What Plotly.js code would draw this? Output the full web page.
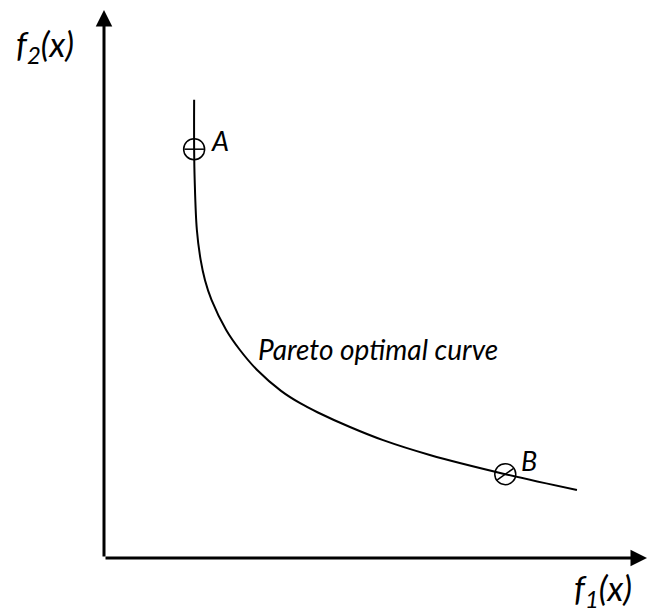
<!DOCTYPE html>
<html>
<head>
<meta charset="utf-8">
<script src="https://cdn.plot.ly/plotly-3.0.1.min.js"></script>
<style>
  html, body { margin: 0; padding: 0; background: #ffffff; }
  #chart { width: 647px; height: 614px; }
</style>
</head>
<body>
<div id="chart"></div>
<script>
// Pareto front: objective f1 on the horizontal axis, f2 on the vertical axis
const curveF1 = [1.66, 1.66, 1.67, 1.71, 1.78, 1.86, 1.98, 2.25, 2.50, 2.82, 3.26, 3.62, 3.93, 4.53, 5.14, 6.00, 7.39, 8.71];
const curveF2 = [8.36, 7.46, 6.90, 5.99, 5.44, 5.07, 4.71, 4.16, 3.80, 3.43, 3.05, 2.82, 2.66, 2.39, 2.15, 1.88, 1.53, 1.24];

// Two highlighted solutions on the front
const pointNames = ['A', 'B'];
const pointF1 = [1.66, 7.39];
const pointF2 = [7.46, 1.53];
const tickAngles = [0, -35];

// Axis extent (arrow tips)
const axisMax = 10;

const fontFamily = 'Lato, "Open Sans", "DejaVu Sans", sans-serif';

const traces = [
  {
    type: 'scatter', mode: 'lines',
    x: curveF1, y: curveF2,
    line: { color: '#000', width: 2, shape: 'spline', smoothing: 1.0 },
    hoverinfo: 'skip', showlegend: false
  },
  {
    type: 'scatter', mode: 'markers',
    x: pointF1, y: pointF2,
    marker: { symbol: 'circle-open', size: 21, color: '#000', line: { color: '#000', width: 1.5 } },
    hoverinfo: 'skip', showlegend: false
  },
  {
    type: 'scatter', mode: 'markers',
    x: pointF1, y: pointF2,
    marker: { symbol: 'line-ew-open', size: 14, angle: tickAngles, color: '#000', line: { color: '#000', width: 1.5 } },
    hoverinfo: 'skip', showlegend: false
  }
];

const annotations = [
  // horizontal axis with arrow
  { x: axisMax, y: 0, ax: 0, ay: 0, xref: 'x', yref: 'y', axref: 'x', ayref: 'y',
    text: '', showarrow: true, arrowhead: 2, arrowsize: 1.1, arrowwidth: 3, arrowcolor: '#000', standoff: 0 },
  // vertical axis with arrow
  { x: 0, y: axisMax, ax: 0, ay: 0, xref: 'x', yref: 'y', axref: 'x', ayref: 'y',
    text: '', showarrow: true, arrowhead: 2, arrowsize: 1.1, arrowwidth: 3, arrowcolor: '#000', standoff: 0 },
  // axis labels
  { xref: 'paper', yref: 'paper', x: -0.109, y: 0.935, xanchor: 'center', yanchor: 'middle', showarrow: false,
    text: 'f<sub>2</sub>(x)', font: { family: fontFamily, size: 34, color: '#000', style: 'italic' } },
  { xref: 'paper', yref: 'paper', x: 0.919, y: -0.058, xanchor: 'center', yanchor: 'middle', showarrow: false,
    text: 'f<sub>1</sub>(x)', font: { family: fontFamily, size: 34, color: '#000', style: 'italic' } },
  // curve caption
  { xref: 'x', yref: 'y', x: 5.05, y: 3.81, xanchor: 'center', yanchor: 'middle', showarrow: false,
    text: 'Pareto optimal curve', font: { family: fontFamily, size: 28, color: '#000', style: 'italic' } }
];

// point labels, offset from their points
const labelShift = [[26, 9], [24, 14]];
pointNames.forEach((name, i) => {
  annotations.push({
    xref: 'x', yref: 'y', x: pointF1[i], y: pointF2[i], showarrow: false,
    xanchor: 'center', yanchor: 'middle',
    xshift: labelShift[i][0], yshift: labelShift[i][1],
    text: name, font: { family: fontFamily, size: 27, color: '#000', style: 'italic' }
  });
});

const hiddenAxis = {
  range: [0, axisMax], showgrid: false, zeroline: false, showline: false,
  showticklabels: false, ticks: '', fixedrange: true
};

const layout = {
  width: 647, height: 614,
  margin: { l: 104, r: 0, t: 10, b: 56 },
  paper_bgcolor: '#fff', plot_bgcolor: '#fff',
  xaxis: Object.assign({}, hiddenAxis),
  yaxis: Object.assign({}, hiddenAxis),
  annotations: annotations,
  showlegend: false
};

Plotly.newPlot('chart', traces, layout, { displayModeBar: false, staticPlot: true });
</script>
</body>
</html>
